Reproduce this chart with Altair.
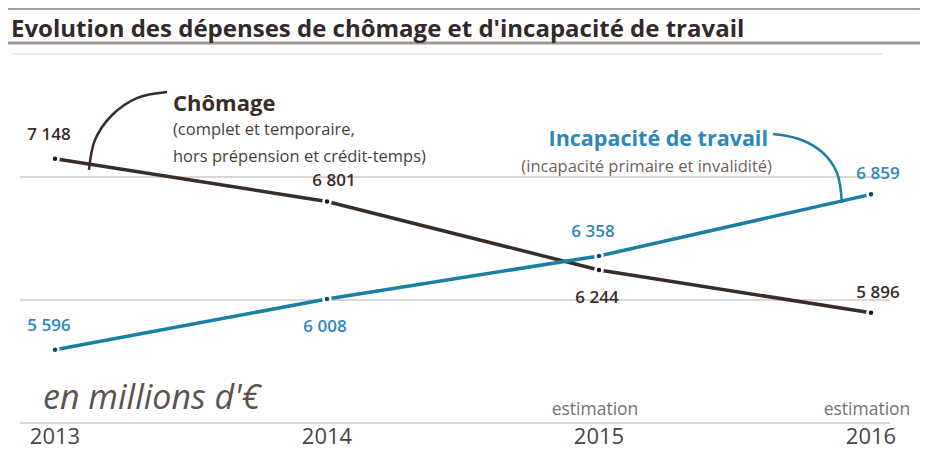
import altair as alt
import pandas as pd

# ---------------- data ----------------
years = [2013, 2014, 2015, 2016]
chomage = [7148, 6801, 6244, 5896]
incapacite = [5596, 6008, 6358, 6859]
series_names = ["Chômage", "Incapacité de travail"]
grid_values = [5000, 6000, 7000]
top_grid = [8000]
estimation_years = [2015, 2016]
title_text = "Evolution des dépenses de chômage et d'incapacité de travail"
unit_text = "en millions d'€"
ch_title = "Chômage"
ch_sub1 = "(complet et temporaire,"
ch_sub2 = "hors prépension et crédit-temps)"
in_title = "Incapacité de travail"
in_sub = "(incapacité primaire et invalidité)"

# leader curves of the two annotations (data coordinates)
lead_ch_year = [2013.412, 2013.301, 2013.210, 2013.147, 2013.125]
lead_ch_val = [7691, 7642, 7504, 7301, 7057]
lead_in_year = [2015.640, 2015.735, 2015.820, 2015.875, 2015.893]
lead_in_val = [7350, 7309, 7203, 7033, 6789]

# ---------------- styling ----------------
DARK = "#3a2c28"
BLUE = "#1b7ea3"
BLUE_TXT = "#2b88b9"
GRID = "#dcd7d2"
FONT = "Open Sans"

def fmt(v):
    return f"{v:,}".replace(",", " ")

rows = []
for s, vals in zip(series_names, [chomage, incapacite]):
    for y, v in zip(years, vals):
        rows.append({"series": s, "year": y, "value": v, "label": fmt(v)})
df = pd.DataFrame(rows)

above_left = {("Chômage", 2013), ("Incapacité de travail", 2013), ("Incapacité de travail", 2015)}
above_right = {("Chômage", 2014), ("Chômage", 2016), ("Incapacité de travail", 2016)}
df["place"] = [
    "al" if (s, y) in above_left else ("ar" if (s, y) in above_right else "b")
    for s, y in zip(df["series"], df["year"])
]

x0 = 2013 - 35 / 272
x1 = x0 + 880 / 272
xscale = alt.Scale(domain=[x0, x1], nice=False, zero=False)
yscale = alt.Scale(domain=[5000, 8000], nice=False, zero=False)

X = alt.X("year:Q", scale=xscale, axis=None)
Y = alt.Y("value:Q", scale=yscale, axis=None)

# gridlines
grid = alt.Chart(pd.DataFrame({"value": grid_values})).mark_rule(
    color=GRID, strokeWidth=2
).encode(y=Y, x=alt.value(0), x2=alt.value(870))
grid_top = alt.Chart(pd.DataFrame({"value": top_grid})).mark_rule(
    color="#efece9", strokeWidth=2
).encode(y=Y, x=alt.value(-8), x2=alt.value(862))

color = alt.Color("series:N", scale=alt.Scale(domain=series_names, range=[DARK, BLUE]), legend=None)

lines = alt.Chart(df).mark_line(strokeWidth=3.5).encode(x=X, y=Y, color=color)

points = alt.Chart(df).mark_circle(size=50, opacity=1, stroke="white", strokeWidth=2.5).encode(
    x=X, y=Y,
    color=alt.condition("datum.series === 'Chômage'", alt.value("#1d1817"), alt.value("#0d4d63")),
)

lab_color = alt.condition("datum.series === 'Chômage'", alt.value(DARK), alt.value(BLUE_TXT))

def labels(place, dx, dy):
    return alt.Chart(df).transform_filter(f"datum.place === '{place}'").mark_text(
        font=FONT, fontSize=17, fontWeight=600, dx=dx, dy=dy, baseline="middle", align="center"
    ).encode(x=X, y=Y, text="label:N", color=lab_color)

lab_al = labels("al", -6, -24)
lab_ar = labels("ar", 7, -20)
lab_b = labels("b", -2, 28)

# year labels along the bottom
year_labels = alt.Chart(pd.DataFrame({"year": years, "t": [str(y) for y in years]})).mark_text(
    font=FONT, fontSize=22, color="#4b4340", align="center", baseline="alphabetic"
).encode(x=X, y=alt.value(390), text="t:N")

# leader curves
lead_ch = alt.Chart(pd.DataFrame({"year": lead_ch_year, "value": lead_ch_val, "i": list(range(len(lead_ch_year)))})).mark_line(
    interpolate="catmull-rom", color=DARK, strokeWidth=2.5
).encode(x=X, y=Y, order="i:O")
lead_in = alt.Chart(pd.DataFrame({"year": lead_in_year, "value": lead_in_val, "i": list(range(len(lead_in_year)))})).mark_line(
    interpolate="catmull-rom", color=BLUE, strokeWidth=2.5
).encode(x=X, y=Y, order="i:O")

def txt(t, x, y, **kw):
    return alt.Chart(pd.DataFrame({"t": [t]})).mark_text(font=FONT, **kw).encode(
        text="t:N", x=alt.value(x), y=alt.value(y)
    )

ann_ch1 = txt(ch_title, 153, 50, fontSize=22, fontWeight="bold", color=DARK, align="left")
ann_ch2 = txt(ch_sub1, 153, 76, fontSize=16.5, color="#4a3d38", align="left")
ann_ch3 = txt(ch_sub2, 153, 103, fontSize=16.5, color="#4a3d38", align="left")
ann_in1 = txt(in_title, 748, 86, fontSize=21.5, fontWeight="bold", color=BLUE_TXT, align="right")
ann_in2 = txt(in_sub, 752, 113, fontSize=16.5, color="#6e625c", align="right")

unit = txt(unit_text, 23, 345, fontSize=34, fontStyle="italic", color="#5d524e", align="left")

estim = alt.Chart(pd.DataFrame({"year": estimation_years, "t": ["estimation"] * len(estimation_years)})).mark_text(
    font=FONT, fontSize=17.5, color="#77706b", align="center", dx=-4
).encode(x=X, y=alt.value(356), text="t:N")

title = txt(title_text, -9, -24, fontSize=24, fontWeight="bold", color="#33292a", align="left")

rule_title = alt.Chart(pd.DataFrame({"a": [0]})).mark_rule(color="#9e9893", strokeWidth=3).encode(
    x=alt.value(-12), x2=alt.value(900), y=alt.value(-11)
)
rule_top = alt.Chart(pd.DataFrame({"a": [0]})).mark_rule(color="#a8a29d", strokeWidth=2).encode(
    x=alt.value(-12), x2=alt.value(900), y=alt.value(-45)
)

chart = alt.layer(
    grid_top, grid, rule_top, rule_title, title,
    lead_ch, lead_in,
    lines, points, lab_al, lab_ar, lab_b, year_labels,
    ann_ch1, ann_ch2, ann_ch3, ann_in1, ann_in2, unit, estim,
).properties(
    width=880, height=369,
    autosize=alt.AutoSizeParams(type="none"),
    padding={"left": 12, "top": 46, "right": 20, "bottom": 27},
    background="white",
).configure_view(stroke=None)

chart.save("out.html", embed_options={"renderer": "svg", "actions": False})
